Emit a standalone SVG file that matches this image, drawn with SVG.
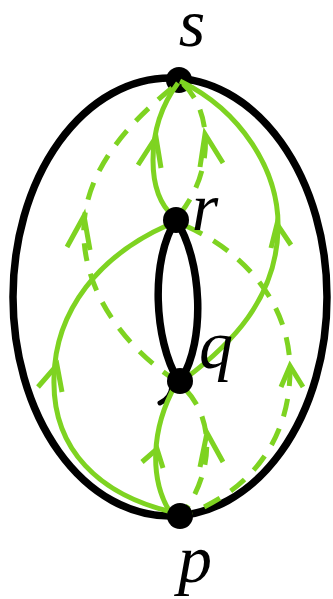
<svg xmlns="http://www.w3.org/2000/svg" width="333" height="599" viewBox="0 0 333 599">
<style>
.blk{fill:none;stroke:#000;stroke-width:7.5}
.g{fill:none;stroke:#7ed321;stroke-width:5}
.d{stroke-dasharray:18 13}
.ah{fill:none;stroke:#7ed321;stroke-width:5;stroke-linejoin:miter}
.dot{fill:#000}
.lbl{font-family:"Liberation Serif","Times New Roman",serif;font-style:italic;font-size:68px;fill:#000}
</style>
<rect width="333" height="599" fill="#fff"/>
<g id="frame">
<ellipse class="blk" cx="170" cy="297" rx="157" ry="219"/>
<path class="blk" d="M176,220 C150,260 154,340 178,380"/>
<path class="blk" d="M176,220 C202,260 206,340 181,380"/>
<path d="M172,386 Q171,398 160,403" fill="none" stroke="#000" stroke-width="5" stroke-linecap="round"/>
</g>
<g id="node-s">
<circle class="dot" cx="179" cy="80" r="13"/>
<text class="lbl" x="192" y="46" text-anchor="middle">s</text>
</g>
<g id="connectors">
<path class="g" d="M178,83 C163,103 153,130 153,160 C153,185 160,205 174,217"/>
<path class="g" d="M180,81 C240,110 280,170 278,230 C276,300 230,345 186,378"/>
<path class="g" d="M168,225 C100,255 55,310 54,378 C52,450 100,495 172,512"/>
<path class="g" d="M170,512 C150,480 150,430 176,384"/>
<path class="g d" d="M172,88 C120,130 80,180 84,240 C88,300 130,350 172,378"/>
<path class="g d" d="M183,84 C212,110 215,170 180,214"/>
<path class="g d" d="M186,226 C240,250 290,300 290,370 C290,440 250,490 190,513"/>
<path class="g d" d="M186,390 C214,420 214,470 184,512"/>
<path class="ah" d="M138,165 L156,137 L161,168"/>
<path class="ah" d="M200,167 L205,134 L223,163"/>
<path class="ah" d="M271,248 L277,224 L291,245"/>
<path class="ah" d="M38,387 L57,365 L62,392"/>
<path class="ah" d="M67,247 L84,216 L90,250"/>
<path class="ah" d="M281,387 L290,366 L303,387"/>
<path class="ah" d="M142,462 L157,449 L163,468"/>
<path class="ah" d="M200,467 L207,433 L223,462"/>
</g>
<g id="node-r">
<circle class="dot" cx="176" cy="220" r="13"/>
<text class="lbl" x="205" y="230" text-anchor="middle">r</text>
</g>
<g id="node-q">
<circle class="dot" cx="180" cy="381" r="13"/>
<text class="lbl" x="216" y="368" text-anchor="middle">q</text>
</g>
<g id="node-p">
<circle class="dot" cx="180" cy="516" r="13"/>
<text class="lbl" x="195" y="582" text-anchor="middle">p</text>
</g>
</svg>
